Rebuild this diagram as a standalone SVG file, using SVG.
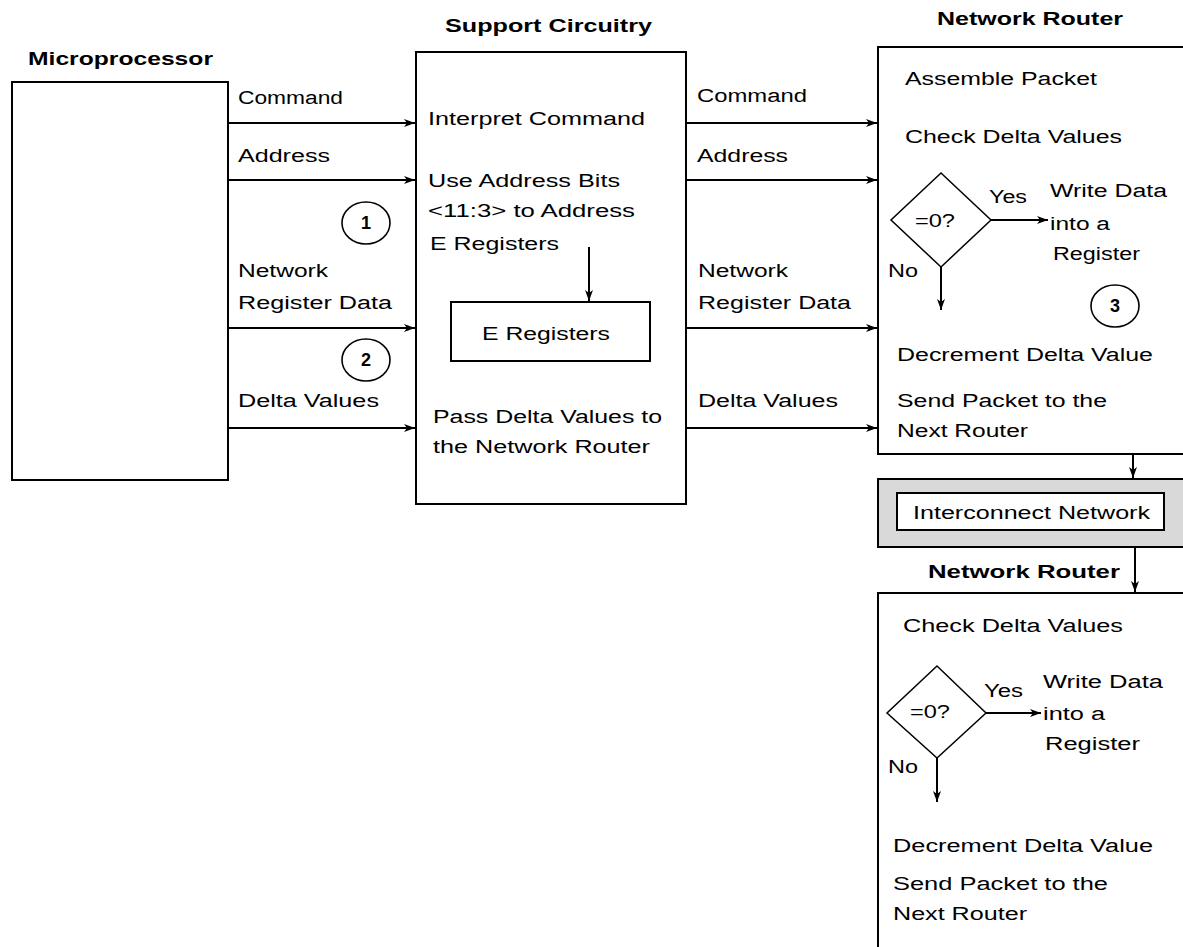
<svg xmlns="http://www.w3.org/2000/svg" width="1183" height="947" viewBox="0 0 1183 947">
<defs>
<marker id="arr" markerWidth="12" markerHeight="10" refX="11" refY="4" orient="auto" markerUnits="userSpaceOnUse">
<path d="M0,0 L11,4 L0,8 L3,4 z" fill="#000"/>
</marker>
<style>
text{font-family:"Liberation Sans",Arial,sans-serif;font-size:18px;fill:#000}
.b{font-weight:bold}
.box{fill:#fff;stroke:#000;stroke-width:2}
.ln{fill:none;stroke:#000;stroke-width:2;marker-end:url(#arr)}
.circ{fill:none;stroke:#000;stroke-width:1.6}
</style>
</defs>
<rect width="1183" height="947" fill="#fff"/>

<g id="microprocessor">
<text class="b" x="28" y="65" textLength="185" lengthAdjust="spacingAndGlyphs">Microprocessor</text>
<rect class="box" x="12" y="82" width="216" height="398"/>
</g>

<g id="support">
<text class="b" x="445" y="32" textLength="207" lengthAdjust="spacingAndGlyphs">Support Circuitry</text>
<rect class="box" x="416" y="52" width="270" height="452"/>
<text x="428" y="125" textLength="217" lengthAdjust="spacingAndGlyphs">Interpret Command</text>
<text x="428" y="187" textLength="192" lengthAdjust="spacingAndGlyphs">Use Address Bits</text>
<text x="428" y="217" textLength="207" lengthAdjust="spacingAndGlyphs">&lt;11:3&gt; to Address</text>
<text x="430" y="250" textLength="129" lengthAdjust="spacingAndGlyphs">E Registers</text>
<text x="433" y="423" textLength="229" lengthAdjust="spacingAndGlyphs">Pass Delta Values to</text>
<text x="433" y="453" textLength="217" lengthAdjust="spacingAndGlyphs">the Network Router</text>
</g>

<g id="eregisters">
<rect class="box" x="451" y="302" width="199" height="59"/>
<text x="482" y="340" textLength="128" lengthAdjust="spacingAndGlyphs">E Registers</text>
</g>

<g id="router1">
<text class="b" x="937" y="25" textLength="186" lengthAdjust="spacingAndGlyphs">Network Router</text>
<rect class="box" x="878" y="47" width="320" height="407"/>
<text x="905" y="85" textLength="192" lengthAdjust="spacingAndGlyphs">Assemble Packet</text>
<text x="905" y="143" textLength="217" lengthAdjust="spacingAndGlyphs">Check Delta Values</text>
<polygon points="941,173 991,220 941,267 891,220" fill="#fff" stroke="#000" stroke-width="1.5"/>
<text x="915" y="227" textLength="40" lengthAdjust="spacingAndGlyphs">=0?</text>
<text x="989" y="203" textLength="38" lengthAdjust="spacingAndGlyphs">Yes</text>
<text x="1050" y="197" textLength="117" lengthAdjust="spacingAndGlyphs">Write Data</text>
<text x="1050" y="230" textLength="60" lengthAdjust="spacingAndGlyphs">into a</text>
<text x="1053" y="260" textLength="87" lengthAdjust="spacingAndGlyphs">Register</text>
<text x="888" y="277" textLength="30" lengthAdjust="spacingAndGlyphs">No</text>
<text x="897" y="361" textLength="256" lengthAdjust="spacingAndGlyphs">Decrement Delta Value</text>
<text x="897" y="407" textLength="210" lengthAdjust="spacingAndGlyphs">Send Packet to the</text>
<text x="897" y="437" textLength="131" lengthAdjust="spacingAndGlyphs">Next Router</text>
</g>

<g id="interconnect">
<rect x="878" y="479" width="320" height="68" fill="#d9d9d9" stroke="#000" stroke-width="2"/>
<rect class="box" x="897" y="493" width="267" height="37"/>
<text x="913" y="519" textLength="237" lengthAdjust="spacingAndGlyphs">Interconnect Network</text>
</g>

<g id="router2">
<text class="b" x="928" y="578" textLength="192" lengthAdjust="spacingAndGlyphs">Network Router</text>
<rect class="box" x="878" y="593" width="320" height="380"/>
<text x="903" y="632" textLength="220" lengthAdjust="spacingAndGlyphs">Check Delta Values</text>
<polygon points="937,666 986,713 937,758 887,713" fill="#fff" stroke="#000" stroke-width="1.5"/>
<text x="910" y="718" textLength="40" lengthAdjust="spacingAndGlyphs">=0?</text>
<text x="984" y="697" textLength="39" lengthAdjust="spacingAndGlyphs">Yes</text>
<text x="1043" y="688" textLength="120" lengthAdjust="spacingAndGlyphs">Write Data</text>
<text x="1043" y="720" textLength="62" lengthAdjust="spacingAndGlyphs">into a</text>
<text x="1045" y="750" textLength="95" lengthAdjust="spacingAndGlyphs">Register</text>
<text x="888" y="773" textLength="30" lengthAdjust="spacingAndGlyphs">No</text>
<text x="893" y="852" textLength="260" lengthAdjust="spacingAndGlyphs">Decrement Delta Value</text>
<text x="893" y="890" textLength="215" lengthAdjust="spacingAndGlyphs">Send Packet to the</text>
<text x="893" y="920" textLength="134" lengthAdjust="spacingAndGlyphs">Next Router</text>
</g>

<g id="markers">
<ellipse class="circ" cx="366" cy="223" rx="24" ry="21"/>
<text class="b" x="366" y="229" text-anchor="middle">1</text>
<ellipse class="circ" cx="366" cy="360" rx="24" ry="21"/>
<text class="b" x="366" y="366" text-anchor="middle">2</text>
<ellipse class="circ" cx="1115" cy="306" rx="24" ry="21"/>
<text class="b" x="1115" y="312" text-anchor="middle">3</text>
</g>

<g id="connectors">
<text x="238" y="104" textLength="105" lengthAdjust="spacingAndGlyphs">Command</text>
<text x="238" y="162" textLength="92" lengthAdjust="spacingAndGlyphs">Address</text>
<text x="238" y="277" textLength="90" lengthAdjust="spacingAndGlyphs">Network</text>
<text x="238" y="309" textLength="154" lengthAdjust="spacingAndGlyphs">Register Data</text>
<text x="238" y="407" textLength="141" lengthAdjust="spacingAndGlyphs">Delta Values</text>
<text x="697" y="102" textLength="110" lengthAdjust="spacingAndGlyphs">Command</text>
<text x="697" y="162" textLength="91" lengthAdjust="spacingAndGlyphs">Address</text>
<text x="698" y="277" textLength="90" lengthAdjust="spacingAndGlyphs">Network</text>
<text x="698" y="309" textLength="153" lengthAdjust="spacingAndGlyphs">Register Data</text>
<text x="698" y="407" textLength="140" lengthAdjust="spacingAndGlyphs">Delta Values</text>
<line class="ln" x1="228" y1="123" x2="415" y2="123"/>
<line class="ln" x1="228" y1="180" x2="415" y2="180"/>
<line class="ln" x1="228" y1="328" x2="415" y2="328"/>
<line class="ln" x1="228" y1="428" x2="415" y2="428"/>
<line class="ln" x1="686" y1="123" x2="877" y2="123"/>
<line class="ln" x1="686" y1="180" x2="877" y2="180"/>
<line class="ln" x1="686" y1="328" x2="877" y2="328"/>
<line class="ln" x1="686" y1="428" x2="877" y2="428"/>
<line class="ln" x1="589" y1="247" x2="589" y2="301"/>
<line class="ln" x1="991" y1="220" x2="1048" y2="220"/>
<line class="ln" x1="941" y1="267" x2="941" y2="310"/>
<line class="ln" x1="986" y1="713" x2="1041" y2="713"/>
<line class="ln" x1="937" y1="758" x2="937" y2="802"/>
<line class="ln" x1="1133" y1="454" x2="1133" y2="478"/>
<line class="ln" x1="1135" y1="547" x2="1135" y2="592"/>
</g>
</svg>
